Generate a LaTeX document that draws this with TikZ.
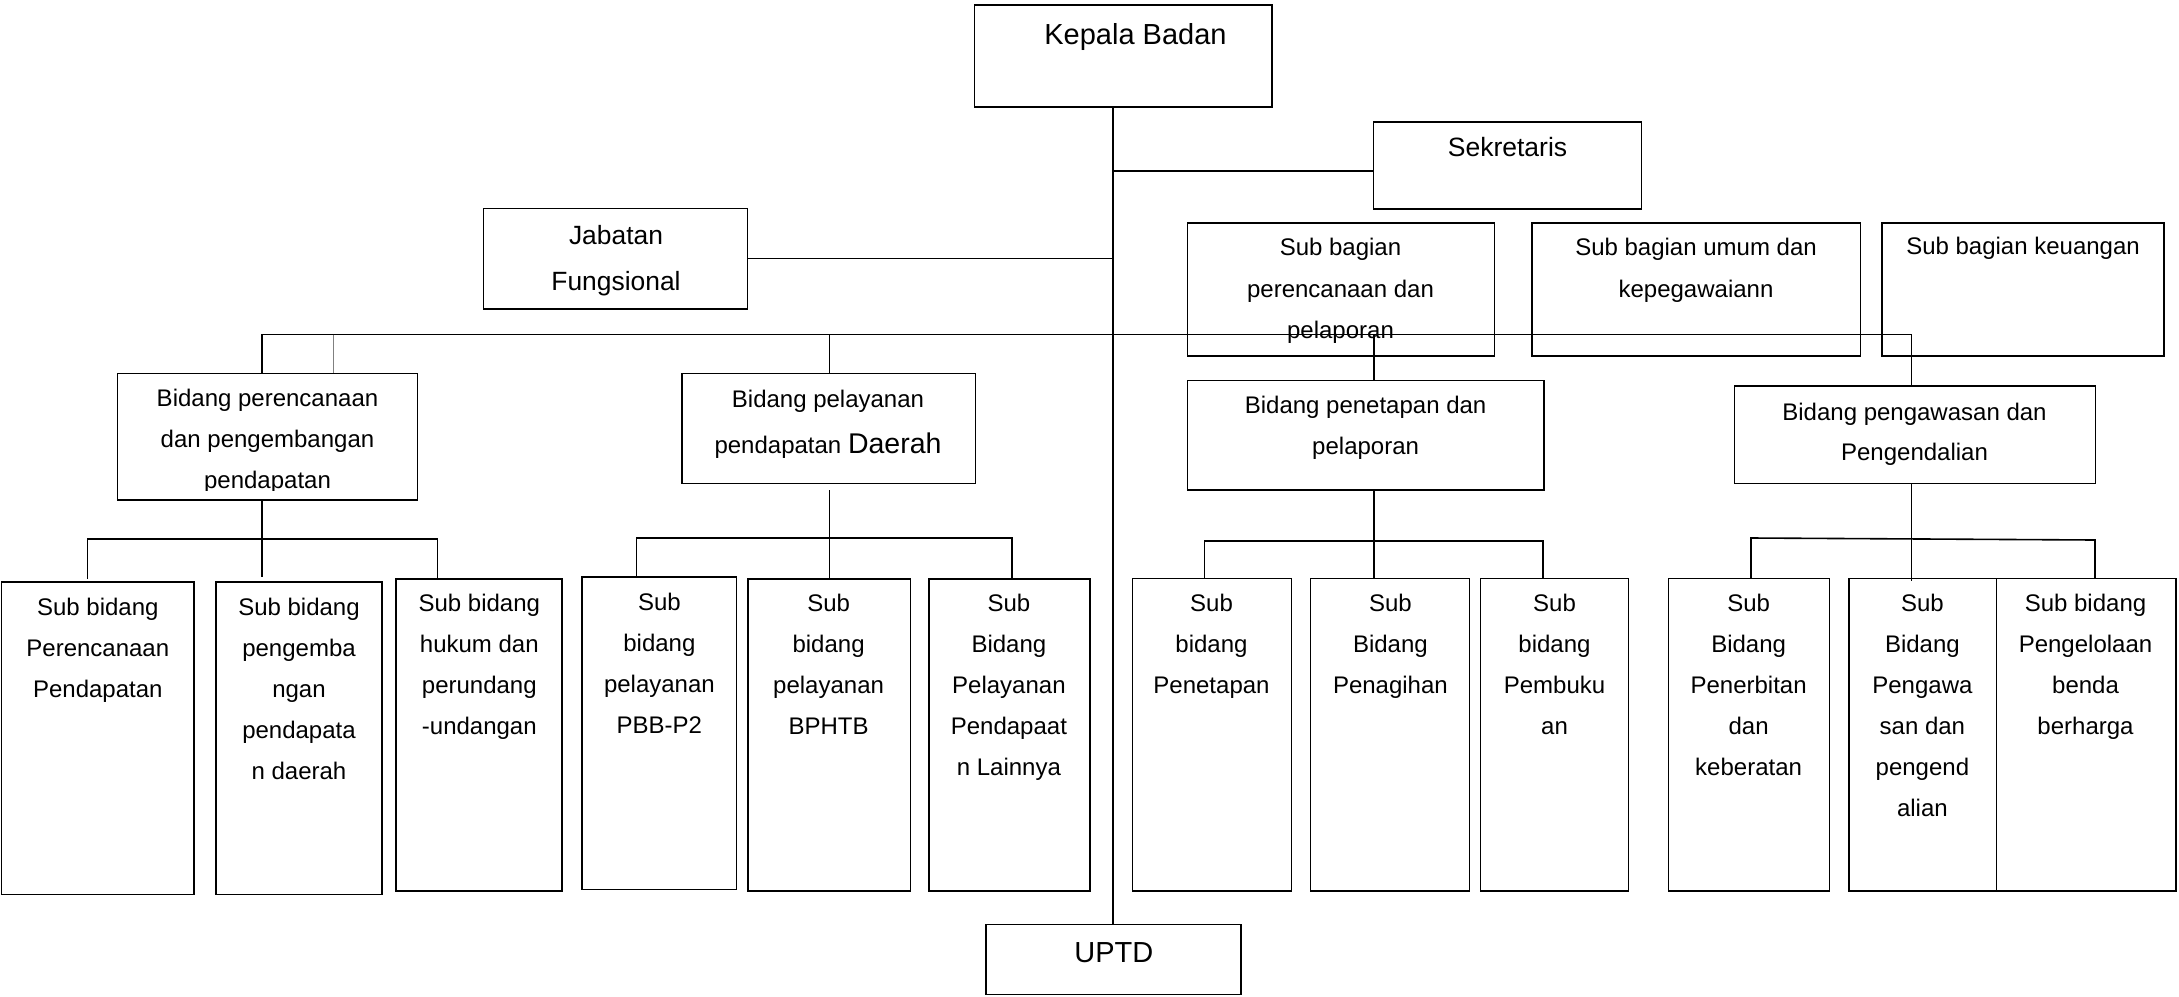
\documentclass[tikz,border=0pt]{standalone}
\usepackage{fontspec}
\setmainfont{Liberation Sans}
\newcommand{\mltext}[1]{\vtop{\tabskip=0pt\halign{\hfil##\hfil\cr#1\crcr}}}
\newcommand{\boxnode}[5]{\node[box, minimum width={(#4-#2)*1pt}, minimum height={(#5-#3)*1pt}] (#1) at (#2,#3) {};}
\tikzset{
  box/.style={draw, rectangle, line width=1.6pt, inner sep=0pt, outer sep=0pt, anchor=north west},
  conn/.style={line width=1.6pt},
  thinconn/.style={line width=1pt, draw=gray},
  txt/.style={inner sep=0pt, anchor=base, font=\fontsize{24}{41}\selectfont}
}
\begin{document}
\begin{tikzpicture}[x=1pt,y=-1pt]
\useasboundingbox (0,0) rectangle (2179,996);
% boxes
\boxnode{kb}{974.5}{5}{1272}{106.7}
\boxnode{sek}{1373.5}{121.7}{1641.3}{209}
\boxnode{jab}{483.6}{208.5}{747.6}{308.7}
\boxnode{sbp}{1187.4}{222.7}{1494.3}{356}
\boxnode{sbu}{1532.2}{222.7}{1860.5}{356}
\boxnode{sbk}{1881.8}{222.7}{2164}{356}
\boxnode{bp1}{117.3}{373.3}{417.6}{500}
\boxnode{bp2}{682}{373.3}{975.3}{483.3}
\boxnode{bp3}{1187.4}{380.5}{1543.8}{490}
\boxnode{bp4}{1734.5}{386}{2095.3}{483.3}
\boxnode{s11}{1.4}{581.7}{194.1}{894.3}
\boxnode{s12}{216}{581.7}{382.2}{894.3}
\boxnode{s13}{396.2}{578.7}{561.9}{891}
\boxnode{s21}{582.1}{576.7}{736.6}{889.3}
\boxnode{s22}{748.2}{578.7}{910.3}{890.7}
\boxnode{s23}{929}{578.7}{1089.7}{890.7}
\boxnode{s31}{1132.4}{578.5}{1291.3}{891}
\boxnode{s32}{1310.6}{578.5}{1469.5}{891}
\boxnode{s33}{1480.5}{578.5}{1628.5}{891}
\boxnode{s41}{1668.4}{578.3}{1829.4}{891}
\boxnode{s42}{1849}{578.3}{1996.5}{891}
\boxnode{s43}{1996.5}{578.3}{2176}{891}
\boxnode{uptd}{986}{924.3}{1240.7}{994.3}
% texts
\node[txt, font=\fontsize{29}{35}\selectfont] (kb-t) at (1135.5,44.3) {\mltext{Kepala Badan}};
\node[txt, font=\fontsize{26.5}{46}\selectfont] (sek-t) at (1507.5,156.7) {\mltext{Sekretaris}};
\node[txt, font=\fontsize{26.4}{46}\selectfont] (jab-t) at (616,244) {\mltext{Jabatan\cr Fungsional}};
\node[txt, font=\fontsize{24}{41.7}\selectfont] (sbp-t) at (1340.5,255.5) {\mltext{Sub bagian\cr perencanaan dan\cr pelaporan}};
\node[txt, font=\fontsize{24}{41.5}\selectfont] (sbu-t) at (1696,255.5) {\mltext{Sub bagian umum dan\cr kepegawaiann}};
\node[txt] (sbk-t) at (2023,254) {\mltext{Sub bagian keuangan}};
\begin{scope}
\clip (117.3,373.3) rectangle (417.6,490.5);
\node[txt] (bp1-t) at (267.5,406.7) {\mltext{Bidang perencanaan\cr dan pengembangan\cr pendapatan}};
\end{scope}
\node[txt, font=\fontsize{24}{46}\selectfont] (bp2-t) at (828,407.3) {\mltext{Bidang pelayanan\cr pendapatan {\fontsize{28.5}{34}\selectfont Daerah}}};
\node[txt] (bp3-t) at (1365.6,413.3) {\mltext{Bidang penetapan dan\cr pelaporan}};
\node[txt, font=\fontsize{24}{40}\selectfont] (bp4-t) at (1914.5,420) {\mltext{Bidang pengawasan dan\cr Pengendalian}};
\node[txt] (s11-t) at (97.8,615) {\mltext{Sub bidang\cr Perencanaan\cr Pendapatan}};
\node[txt] (s12-t) at (299,615) {\mltext{Sub bidang\cr pengemba\cr ngan\cr pendapata\cr n daerah}};
\node[txt] (s13-t) at (479.3,611.7) {\mltext{Sub bidang\cr hukum dan\cr perundang\cr -undangan}};
\node[txt] (s21-t) at (659.4,610) {\mltext{Sub\cr bidang\cr pelayanan\cr PBB-P2}};
\node[txt] (s22-t) at (828.6,611.7) {\mltext{Sub\cr bidang\cr pelayanan\cr BPHTB}};
\node[txt] (s23-t) at (1008.9,611.7) {\mltext{Sub\cr Bidang\cr Pelayanan\cr Pendapaat\cr n Lainnya}};
\node[txt] (s31-t) at (1211.5,611.7) {\mltext{Sub\cr bidang\cr Penetapan}};
\node[txt] (s32-t) at (1390.4,611.7) {\mltext{Sub\cr Bidang\cr Penagihan}};
\node[txt] (s33-t) at (1554.5,611.7) {\mltext{Sub\cr bidang\cr Pembuku\cr an}};
\node[txt] (s41-t) at (1748.6,611.7) {\mltext{Sub\cr Bidang\cr Penerbitan\cr dan\cr keberatan}};
\node[txt] (s42-t) at (1922.4,611.7) {\mltext{Sub\cr Bidang\cr Pengawa\cr san dan\cr pengend\cr alian}};
\node[txt] (s43-t) at (2085.5,611.7) {\mltext{Sub bidang\cr Pengelolaan\cr benda\cr berharga}};
\node[txt, font=\fontsize{29}{35}\selectfont] (uptd-t) at (1113.8,962.7) {\mltext{UPTD}};
% helper coordinates
\coordinate (cM) at (1112.7,0);
\coordinate (rowSek) at (0,171);
\coordinate (rowH) at (0,334.5);
\coordinate (c1) at (262,0);
\coordinate (cg) at (333,0);
\coordinate (c2) at (829.3,0);
\coordinate (c3) at (1373.7,0);
\coordinate (c4) at (1911.5,0);
\coordinate (row1) at (0,539);
\coordinate (l1) at (87.5,0);
\coordinate (r1) at (437.6,0);
\coordinate (row2) at (0,538);
\coordinate (l2) at (636.6,0);
\coordinate (r2) at (1012,0);
\coordinate (row3) at (0,541);
\coordinate (l3) at (1204.6,0);
\coordinate (r3) at (1543.2,0);
\coordinate (l4) at (1751,538);
\coordinate (r4) at (2095,540);
% connectors
\draw[conn] (kb.south -| cM) -- (uptd.north -| cM);
\draw[conn] (cM |- rowSek) -- (sek.west |- rowSek);
\draw[conn] (jab.east) -- (jab.east -| cM);
\draw[conn] (bp1.north -| c1) |- (c4 |- rowH) -- (bp4.north -| c4);
\draw[thinconn] (cg |- rowH) -- (bp1.north -| cg);
\draw[conn] (c2 |- rowH) -- (bp2.north -| c2);
\draw[conn] (c3 |- rowH) -- (bp3.north -| c3);
% group 1
\draw[conn] (bp1.south -| c1) -- ([yshift=4.5pt]s12.north -| c1);
\draw[conn] ([yshift=2.5pt]s11.north -| l1) |- (r1 |- row1) -- (s13.north -| r1);
% group 2
\draw[conn] ([yshift=-6.7pt]bp2.south -| c2) -- (s22.north -| c2);
\draw[conn] (s21.north -| l2) |- (r2 |- row2) -- (s23.north -| r2);
% group 3
\draw[conn] (bp3.south -| c3) -- (s32.north -| c3);
\draw[conn] (s31.north -| l3) |- (r3 |- row3) -- (s33.north -| r3);
% group 4
\draw[conn] (bp4.south -| c4) -- ([yshift=-3pt]s42.north -| c4);
\draw[conn] (s41.north -| l4) -- (l4) -- (r4) -- (s43.north -| r4);
\end{tikzpicture}
\end{document}
